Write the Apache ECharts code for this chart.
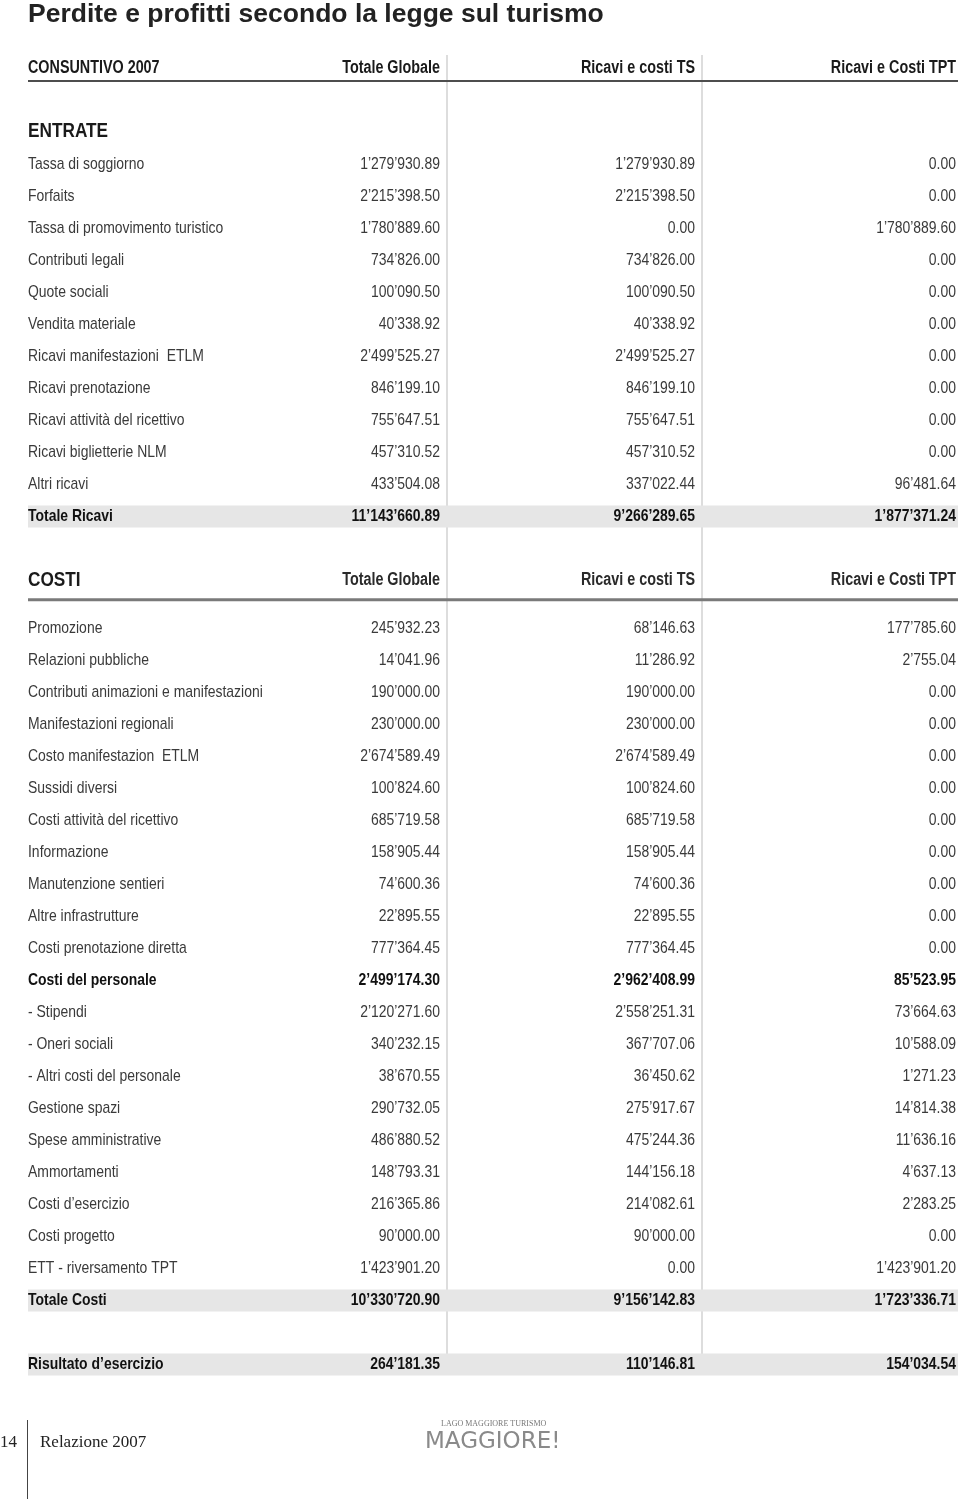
<!DOCTYPE html>
<html>
<head>
<meta charset="utf-8">
<script src="https://cdn.jsdelivr.net/npm/echarts@6/dist/echarts.min.js"></script>
<style>html,body{margin:0;padding:0;background:#fff}#c{width:960px;height:1499px}</style>
</head>
<body>
<div id="c"></div>
<script>
// ---------- DATA ----------
const pageTitle = 'Perdite e profitti secondo la legge sul turismo';
const tableTitle = 'CONSUNTIVO 2007';
const columnHeaders = ['Totale Globale', 'Ricavi e costi TS', 'Ricavi e Costi TPT'];
const sectionEntrate = 'ENTRATE';
const sectionCosti = 'COSTI';

const entrateLabels = ['Tassa di soggiorno', 'Forfaits', 'Tassa di promovimento turistico', 'Contributi legali',
  'Quote sociali', 'Vendita materiale', 'Ricavi manifestazioni  ETLM', 'Ricavi prenotazione',
  'Ricavi attività del ricettivo', 'Ricavi biglietterie NLM', 'Altri ricavi'];
const entrateTotale = [1279930.89, 2215398.50, 1780889.60, 734826.00, 100090.50, 40338.92, 2499525.27, 846199.10, 755647.51, 457310.52, 433504.08];
const entrateTS     = [1279930.89, 2215398.50, 0.00, 734826.00, 100090.50, 40338.92, 2499525.27, 846199.10, 755647.51, 457310.52, 337022.44];
const entrateTPT    = [0.00, 0.00, 1780889.60, 0.00, 0.00, 0.00, 0.00, 0.00, 0.00, 0.00, 96481.64];
const totaleRicaviLabel = 'Totale Ricavi';
const totaleRicavi = [11143660.89, 9266289.65, 1877371.24];

const costiLabels = ['Promozione', 'Relazioni pubbliche', 'Contributi animazioni e manifestazioni', 'Manifestazioni regionali',
  'Costo manifestazion  ETLM', 'Sussidi diversi', 'Costi attività del ricettivo', 'Informazione', 'Manutenzione sentieri',
  'Altre infrastrutture', 'Costi prenotazione diretta', 'Costi del personale', '- Stipendi', '- Oneri sociali',
  '- Altri costi del personale', 'Gestione spazi', 'Spese amministrative', 'Ammortamenti', 'Costi d’esercizio',
  'Costi progetto', 'ETT - riversamento TPT'];
const costiTotale = [245932.23, 14041.96, 190000.00, 230000.00, 2674589.49, 100824.60, 685719.58, 158905.44, 74600.36,
  22895.55, 777364.45, 2499174.30, 2120271.60, 340232.15, 38670.55, 290732.05, 486880.52, 148793.31, 216365.86, 90000.00, 1423901.20];
const costiTS = [68146.63, 11286.92, 190000.00, 230000.00, 2674589.49, 100824.60, 685719.58, 158905.44, 74600.36,
  22895.55, 777364.45, 2962408.99, 2558251.31, 367707.06, 36450.62, 275917.67, 475244.36, 144156.18, 214082.61, 90000.00, 0.00];
const costiTPT = [177785.60, 2755.04, 0.00, 0.00, 0.00, 0.00, 0.00, 0.00, 0.00,
  0.00, 0.00, 85523.95, 73664.63, 10588.09, 1271.23, 14814.38, 11636.16, 4637.13, 2283.25, 0.00, 1423901.20];
const boldCostRow = 'Costi del personale';
const totaleCostiLabel = 'Totale Costi';
const totaleCosti = [10330720.90, 9156142.83, 1723336.71];
const risultatoLabel = 'Risultato d’esercizio';
const risultato = [264181.35, 110146.81, 154034.54];

const footerPage = '14';
const footerText = 'Relazione 2007';
const logoSmall = 'LAGO MAGGIORE TURISMO';
const logoBig = 'MAGGIORE!';

// ---------- LAYOUT ----------
function fmt(v) {
  const parts = v.toFixed(2).split('.');
  return parts[0].replace(/\B(?=(\d{3})+(?!\d))/g, '’') + '.' + parts[1];
}
const rows = [];
rows.push({ kind: 'head', label: tableTitle, vals: columnHeaders, slot: 0 });
rows.push({ kind: 'section', label: sectionEntrate, vals: [], slot: 3.9 });
entrateLabels.forEach((l, i) => rows.push({ kind: 'row', label: l, vals: [entrateTotale[i], entrateTS[i], entrateTPT[i]].map(fmt), slot: 6 + 2 * i }));
rows.push({ kind: 'total', label: totaleRicaviLabel, vals: totaleRicavi.map(fmt), slot: 28 });
rows.push({ kind: 'section2', label: sectionCosti, vals: columnHeaders, slot: 32 });
costiLabels.forEach((l, i) => rows.push({ kind: l === boldCostRow ? 'bold' : 'row', label: l, vals: [costiTotale[i], costiTS[i], costiTPT[i]].map(fmt), slot: 35 + 2 * i }));
rows.push({ kind: 'total', label: totaleCostiLabel, vals: totaleCosti.map(fmt), slot: 77 });
rows.push({ kind: 'total', label: risultatoLabel, vals: risultato.map(fmt), slot: 81 });

const FONT = "'Liberation Sans', Arial, sans-serif";
const NARROW_SCALE = 0.82;
const colRight = [412, 667, 928];   // x-axis units
const sepX = [419, 674];

function txt(x, y, text, align, size, weight, color) {
  return { type: 'text', x: x, y: y, scaleX: NARROW_SCALE, scaleY: 1,
    style: { x: 0, y: 0, text: text, textAlign: align, align: align,
      textVerticalAlign: 'middle', verticalAlign: 'middle', fontFamily: FONT, fontSize: size, fontWeight: weight, fill: color } };
}

const chart = echarts.init(document.getElementById('c'), null, { renderer: 'canvas' });
chart.setOption({
  animation: false,
  backgroundColor: '#fff',
  title: { text: pageTitle, left: 23, top: -4,
    textStyle: { fontFamily: FONT, fontSize: 26.5, fontWeight: 'bold', color: '#222' } },
  grid: { left: 28, top: 68.5, width: 930, height: 1312 },
  xAxis: { type: 'value', min: 0, max: 930, show: false },
  yAxis: { type: 'value', min: 0, max: 82, inverse: true, show: false },
  series: [
    {
      type: 'custom', z: 1, silent: true,
      data: [[0]],
      renderItem: function (params, api) {
        const cs = params.coordSys;
        const yTop = api.coord([0, -0.85])[1], yBot = api.coord([0, 80.5])[1];
        const yl1 = api.coord([0, 0.78])[1], yl2 = api.coord([0, 33.2])[1];
        const ch = [];
        sepX.forEach(function (sx) {
          const x = api.coord([sx, 0])[0];
          ch.push({ type: 'line', shape: { x1: x, y1: yTop, x2: x, y2: yBot }, style: { stroke: '#dddddd', lineWidth: 2 } });
        });
        ch.push({ type: 'line', shape: { x1: cs.x, y1: yl1, x2: cs.x + cs.width, y2: yl1 }, style: { stroke: '#4d4d4d', lineWidth: 2 } });
        ch.push({ type: 'line', shape: { x1: cs.x, y1: yl2, x2: cs.x + cs.width, y2: yl2 }, style: { stroke: '#7a7a7a', lineWidth: 3 } });
        return { type: 'group', children: ch };
      }
    },
    {
      type: 'custom', z: 2, silent: true,
      data: rows.map(function (r, i) { return [i, r.slot]; }),
      encode: { x: 0, y: 1 },
      renderItem: function (params, api) {
        const r = rows[api.value(0)];
        const y = api.coord([0, api.value(1)])[1];
        const cs = params.coordSys;
        const rowH = api.size([0, 1])[1];
        const ch = [];
        const xs = colRight.map(function (c) { return api.coord([c, 0])[0]; });
        if (r.kind === 'total') {
          ch.push({ type: 'rect', shape: { x: cs.x, y: y - rowH * 0.69, width: cs.width, height: rowH * 1.375 }, style: { fill: '#e6e6e6' } });
          ch.push(txt(cs.x, y, r.label, 'left', 17, 'bold', '#111'));
          r.vals.forEach(function (v, k) { ch.push(txt(xs[k], y, v, 'right', 17, 'bold', '#111')); });
        } else if (r.kind === 'head') {
          ch.push(txt(cs.x, y, r.label, 'left', 17.5, 'bold', '#1a1a1a'));
          r.vals.forEach(function (v, k) { ch.push(txt(xs[k], y, v, 'right', 17.5, 'bold', '#1a1a1a')); });
        } else if (r.kind === 'section') {
          ch.push(txt(cs.x, y, r.label, 'left', 21, 'bold', '#1a1a1a'));
        } else if (r.kind === 'section2') {
          ch.push(txt(cs.x, y, r.label, 'left', 21, 'bold', '#1a1a1a'));
          r.vals.forEach(function (v, k) { ch.push(txt(xs[k], y, v, 'right', 17.5, 'bold', '#2a2a2a')); });
        } else if (r.kind === 'bold') {
          ch.push(txt(cs.x, y, r.label, 'left', 17, 'bold', '#111'));
          r.vals.forEach(function (v, k) { ch.push(txt(xs[k], y, v, 'right', 17, 'bold', '#111')); });
        } else {
          ch.push(txt(cs.x, y, r.label, 'left', 17, 'normal', '#3a3a3a'));
          r.vals.forEach(function (v, k) { ch.push(txt(xs[k], y, v, 'right', 17, 'normal', '#3a3a3a')); });
        }
        return { type: 'group', children: ch };
      }
    }
  ],
  graphic: [
    { type: 'text', left: 0, top: 1434, style: { text: footerPage, fontFamily: "'Liberation Serif', serif", fontSize: 17, fill: '#222' } },
    { type: 'line', shape: { x1: 27.5, y1: 1420, x2: 27.5, y2: 1499 }, style: { stroke: '#444', lineWidth: 1 } },
    { type: 'text', left: 40, top: 1434, style: { text: footerText, fontFamily: "'Liberation Serif', serif", fontSize: 17, fill: '#222' } },
    { type: 'text', left: 441, top: 1420, style: { text: logoSmall, fontFamily: "'Liberation Serif', serif", fontSize: 8, fill: '#777' } },
    { type: 'text', left: 425, top: 1431, style: { text: logoBig, fontFamily: "'DejaVu Sans', sans-serif", fontSize: 23, fontWeight: 'normal', fill: '#8a8a8a' } }
  ]
});
</script>
</body>
</html>
